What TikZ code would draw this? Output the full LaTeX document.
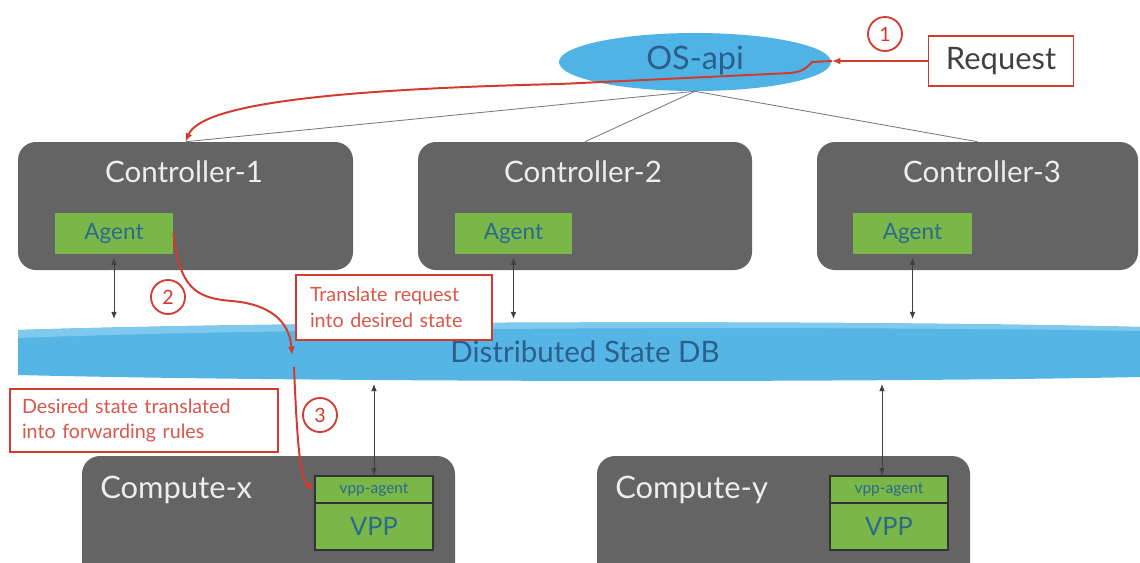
\documentclass[tikz,border=0pt]{standalone}
\usepackage{fontspec}
\setmainfont{Lato}
\usetikzlibrary{shapes.geometric,arrows.meta}
\newdimen\upx \upx=0.025cm
\definecolor{boxgray}{HTML}{646464}
\definecolor{agentgreen}{HTML}{7AB648}
\definecolor{agenttext}{HTML}{2C6A8C}
\definecolor{osblue}{HTML}{4FB3E5}
\definecolor{dbblue}{HTML}{55B5E5}
\definecolor{dblight}{HTML}{7FC9EE}
\definecolor{redc}{HTML}{D23B2E}
\definecolor{redtext}{HTML}{D9574B}
\definecolor{titlegray}{HTML}{EDEDED}
\definecolor{dbtext}{HTML}{2B5F8E}
\definecolor{linegray}{HTML}{7A7A7A}
\tikzset{
 host/.style={fill=boxgray, rounded corners=18\upx, draw=none, inner sep=0pt},
 title/.style={text=titlegray, font=\fontsize{21}{24}\selectfont, inner sep=0pt},
 agent/.style={fill=agentgreen, text=agenttext, font=\fontsize{16}{18}\selectfont, minimum height=41\upx, inner sep=0pt},
 vppa/.style={fill=agentgreen, draw=black!80, line width=1.2pt, text=agenttext, inner sep=0pt, minimum width=118\upx},
 redbox/.style={draw=redc, line width=1.4pt, fill=white, text=redtext, align=left, inner ysep=0pt, font=\fontsize{14}{18.4}\selectfont},
 num/.style={circle, draw=redc, line width=1.3pt, text=redc, minimum size=34\upx, inner sep=0pt, font=\fontsize{14}{16}\selectfont},
 redarrow/.style={draw=redc, line width=1.4pt, -{Latex[length=6pt,width=5pt]}},
 link/.style={draw=linegray, line width=0.6pt},
 dbl/.style={draw=black!75, line width=0.6pt, {Latex[length=5pt,width=4pt]}-{Latex[length=5pt,width=4pt]}},
}
\begin{document}
\begin{tikzpicture}[x=0.025cm, y=-0.025cm]
\useasboundingbox (0,0) rectangle (1140,562);
\clip (0,0) rectangle (1140,562);
\fill[white] (0,0) rectangle (1140,562);

% controllers
\node[host, minimum width=335\upx, minimum height=128\upx] (c1) at (185.5,206) {};
\node[host, minimum width=334\upx, minimum height=128\upx] (c2) at (585,206) {};
\node[host, minimum width=321\upx, minimum height=128\upx] (c3) at (977.5,206) {};
\node[title] (t1) at (184,172) {Controller-1};
\node[title] (t2) at (583,172) {Controller-2};
\node[title] (t3) at (982,172) {Controller-3};
\node[agent, minimum width=118\upx] (a1) at (114,233) {Agent};
\node[agent, minimum width=117\upx] (a2) at (513.5,233) {Agent};
\node[agent, minimum width=119\upx] (a3) at (912.5,233) {Agent};

% OS-api
\node[ellipse, fill=osblue, minimum width=272\upx, minimum height=58\upx, inner sep=0pt] (osapi) at (695,62) {};
\draw[link] (osapi.south) -- (c1.north);
\draw[link] (osapi.south) -- (c2.north);
\draw[link] (osapi.south) -- (c3.north);
\node[text=dbtext, font=\fontsize{23}{25}\selectfont, inner sep=0pt] (ost) at (695,60) {OS-api};

% request
\node[draw=redc, line width=1.4pt, fill=white, minimum width=145\upx, minimum height=50\upx, inner sep=0pt, font=\fontsize{22}{24}\selectfont, text=black!75] (req) at (1001,61) {Request};
\node[num] (n1) at (885,34) {1};
\coordinate (r1) at (832,61);
\draw[redarrow] (req.west) -- (r1);
\draw[redarrow] (r1) -- (812,62) .. controls (805,70) and (800,72) .. (790,73) -- (560,84) .. controls (300,90) and (200,108) .. (c1.north);

% DB band
\fill[dbblue] (18,330) .. controls (300,321) and (850,320) .. (1140,327) -- (1140,377) .. controls (850,383) and (300,382) .. (18,375) -- cycle;
\fill[dblight] (18,330) .. controls (300,321) and (850,320) .. (1140,327) -- (1140,331) .. controls (850,326) and (300,327) .. (18,338) -- cycle;
\node[text=dbtext, font=\fontsize{21}{24}\selectfont, inner sep=0pt] (dbt) at (585,352) {Distributed State DB};

\coordinate (dtop) at (0,319);
\draw[dbl, shorten <=4\upx] (a1.south) -- (a1.south |- dtop);
\draw[dbl, shorten <=4\upx] (a2.south) -- (a2.south |- dtop);
\draw[dbl, shorten <=4\upx] (a3.south) -- (a3.south |- dtop);

% step 2
\node[num] (n2) at (168,297) {2};
\coordinate (r2) at (292,355);
\draw[redarrow] (a1.east) .. controls (180,288) and (195,298) .. (232,301) .. controls (278,305) and (290,328) .. (r2);
\node[redbox, inner xsep=14\upx, text width=168\upx, minimum height=65\upx] (tr) at (394,307.5) {Translate request\\into desired state};
\node[redbox, inner xsep=12\upx, text width=244\upx, minimum height=63\upx] (de) at (144,420.5) {Desired state translated\\into forwarding rules};
\node[num] (n3) at (320,415) {3};

% computes
\node[host, minimum width=373\upx, minimum height=144\upx] (cx) at (268.5,528) {};
\node[host, minimum width=373\upx, minimum height=144\upx] (cy) at (783.5,528) {};
\node[title, font=\fontsize{22}{24}\selectfont, anchor=west] (tx) at (100,490) {Compute-x};
\node[title, font=\fontsize{22}{24}\selectfont, anchor=west] (ty) at (615,490) {Compute-y};
\node[vppa, minimum height=27\upx, font=\fontsize{11}{12}\selectfont] (vx) at (374,489.5) {vpp-agent};
\node[vppa, minimum height=47\upx, font=\fontsize{18}{20}\selectfont] (px) at (374,526.5) {VPP};
\node[vppa, minimum height=27\upx, font=\fontsize{11}{12}\selectfont] (vy) at (889,489.5) {vpp-agent};
\node[vppa, minimum height=47\upx, font=\fontsize{18}{20}\selectfont] (py) at (889,526.5) {VPP};

\coordinate (dbot) at (0,384);
\draw[dbl] (vx.north |- dbot) -- (vx.north);
\draw[dbl] ([xshift=-7\upx]vy.north |- dbot) -- ([xshift=-7\upx]vy.north);

% step 3
\coordinate (r3) at (294,367);
\draw[redarrow] (r3) .. controls (297,440) and (300,480) .. (vx.west);
\end{tikzpicture}
\end{document}
